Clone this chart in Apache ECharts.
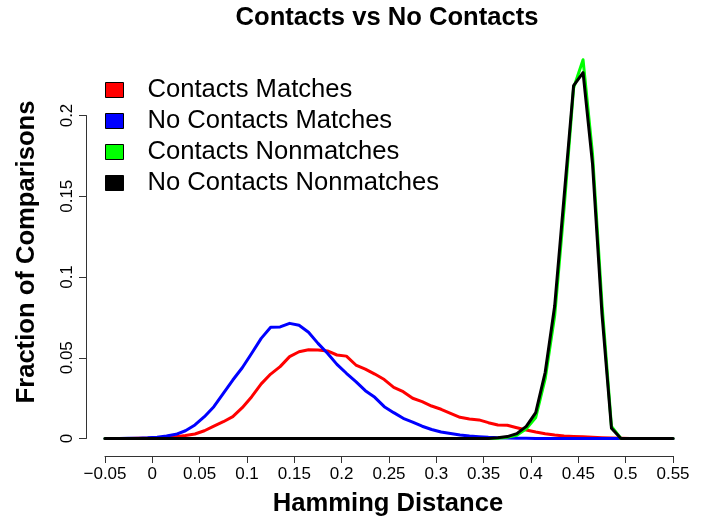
<!DOCTYPE html>
<html>
<head>
<meta charset="utf-8">
<script src="https://cdn.jsdelivr.net/npm/echarts@6/dist/echarts.min.js"></script>
<style>
  html, body { margin: 0; padding: 0; background: #fff; }
  #chart { width: 710px; height: 519px; }
</style>
</head>
<body>
<div id="chart"></div>
<script>
// Hamming distance bin centres (0.01 wide), with the two range ends at -0.05 and 0.55
const distance = [
  -0.05, -0.045, -0.035, -0.025, -0.015, -0.005,
  0.005, 0.015, 0.025, 0.035, 0.045, 0.055, 0.065, 0.075, 0.085, 0.095,
  0.105, 0.115, 0.125, 0.135, 0.145, 0.155, 0.165, 0.175, 0.185, 0.195,
  0.205, 0.215, 0.225, 0.235, 0.245, 0.255, 0.265, 0.275, 0.285, 0.295,
  0.305, 0.315, 0.325, 0.335, 0.345, 0.355, 0.365, 0.375, 0.385, 0.395,
  0.405, 0.415, 0.425, 0.435, 0.445, 0.455, 0.465, 0.475, 0.485, 0.495,
  0.505, 0.515, 0.525, 0.535, 0.545, 0.55
];

const contactsMatches = [
  0, 0, 0, 0, 0.0001, 0.0002,
  0.0004, 0.0007, 0.0011, 0.0018, 0.0028, 0.0048, 0.0077, 0.0104, 0.0135, 0.0191,
  0.0259, 0.0338, 0.0399, 0.0445, 0.0507, 0.0537, 0.0550, 0.0548, 0.0542, 0.0517,
  0.0510, 0.0455, 0.0430, 0.0399, 0.0365, 0.0317, 0.0290, 0.0249, 0.0228, 0.0201,
  0.0181, 0.0156, 0.0131, 0.0121, 0.0115, 0.0098, 0.0084, 0.0082, 0.0067, 0.0053,
  0.0040, 0.0030, 0.0022, 0.0016, 0.0013, 0.0011, 0.0008, 0.0005, 0.0003, 0.0001,
  0, 0, 0, 0, 0, 0
];

const noContactsMatches = [
  0, 0, 0, 0.0001, 0.0002, 0.0004,
  0.0008, 0.0015, 0.0026, 0.0048, 0.0084, 0.0135, 0.0197, 0.0280, 0.0362, 0.0438,
  0.0528, 0.0620, 0.0689, 0.0691, 0.0713, 0.0701, 0.0658, 0.0589, 0.0528, 0.0459,
  0.0404, 0.0352, 0.0296, 0.0255, 0.0197, 0.0160, 0.0125, 0.0102, 0.0076, 0.0056,
  0.0040, 0.0031, 0.0022, 0.0015, 0.0011, 0.0007, 0.0005, 0.0003, 0.0002, 0.0001,
  0, 0, 0, 0, 0, 0, 0, 0, 0, 0,
  0, 0, 0, 0, 0, 0
];

const contactsNonmatches = [
  0, 0, 0, 0, 0, 0,
  0, 0, 0, 0, 0, 0, 0, 0, 0, 0,
  0, 0, 0, 0, 0, 0, 0, 0, 0, 0,
  0, 0, 0, 0, 0, 0, 0, 0, 0, 0,
  0, 0, 0, 0, 0, 0, 0.0002, 0.0008, 0.0020, 0.0060,
  0.0130, 0.0370, 0.0760, 0.1430, 0.2170, 0.2345, 0.1760, 0.0830, 0.0075, 0,
  0, 0, 0, 0, 0, 0
];

const noContactsNonmatches = [
  0, 0, 0, 0, 0, 0,
  0, 0, 0, 0, 0, 0, 0, 0, 0, 0,
  0, 0, 0, 0, 0, 0, 0, 0, 0, 0,
  0, 0, 0, 0, 0, 0, 0, 0, 0, 0,
  0, 0, 0, 0, 0, 0, 0.0004, 0.0012, 0.0030, 0.0075,
  0.0160, 0.0410, 0.0820, 0.1500, 0.2185, 0.2265, 0.1700, 0.0770, 0.0063, 0,
  0, 0, 0, 0, 0, 0
];

const seriesNames = ['Contacts Matches', 'No Contacts Matches', 'Contacts Nonmatches', 'No Contacts Nonmatches'];
const seriesValues = [contactsMatches, noContactsMatches, contactsNonmatches, noContactsNonmatches];
const seriesColors = ['#ff0000', '#0000ff', '#00ff00', '#000000'];

const FONT = 'Liberation Sans, Arial, Helvetica, sans-serif';
const BIG = 25.6;

function tickText(v) {
  const r = Math.round(v * 1000) / 1000;
  if (r === 0) return '0';
  const s = String(Math.abs(r));
  return r < 0 ? '\u2212' + s : s;
}

const chart = echarts.init(document.getElementById('chart'), null, { renderer: 'canvas' });

chart.setOption({
  animation: false,
  backgroundColor: '#ffffff',
  grid: { left: 105, right: 37, top: 115.5, bottom: 80.5, containLabel: false },
  xAxis: {
    type: 'value',
    min: -0.05,
    max: 0.55,
    interval: 0.05,
    offset: 17.5,
    splitLine: { show: false },
    axisLine: { show: true, onZero: false, lineStyle: { color: '#333', width: 1 } },
    axisTick: { show: true, length: 7, lineStyle: { color: '#333', width: 1 } },
    axisLabel: { color: '#000', fontSize: 17, fontFamily: FONT, margin: 10, formatter: tickText, showMinLabel: true, showMaxLabel: true }
  },
  yAxis: {
    type: 'value',
    min: 0,
    max: 0.2,
    interval: 0.05,
    offset: 19,
    splitLine: { show: false },
    axisLine: { show: true, onZero: false, lineStyle: { color: '#333', width: 1 } },
    axisTick: { show: true, length: 7, lineStyle: { color: '#333', width: 1 } },
    axisLabel: { color: '#000', fontSize: 17, fontFamily: FONT, margin: 10, rotate: 90, formatter: tickText }
  },
  legend: {
    orient: 'vertical',
    left: 100,
    top: 72,
    icon: 'rect',
    itemWidth: 18,
    itemHeight: 15,
    itemGap: 5,
    itemStyle: { borderColor: '#000', borderWidth: 1 },
    textStyle: { color: '#000', fontSize: BIG, lineHeight: 25, fontFamily: FONT, padding: [0, 0, 0, 19] },
    data: seriesNames
  },
  graphic: [
    {
      type: 'text', x: 387, y: 18,
      style: { text: 'Contacts vs No Contacts', font: 'bold ' + BIG + 'px ' + FONT, fill: '#000', align: 'center', verticalAlign: 'middle' }
    },
    {
      type: 'text', x: 388, y: 504,
      style: { text: 'Hamming Distance', font: 'bold ' + BIG + 'px ' + FONT, fill: '#000', align: 'center', verticalAlign: 'middle' }
    },
    {
      type: 'text', x: 27, y: 252, rotation: Math.PI / 2,
      style: { text: 'Fraction of Comparisons', font: 'bold ' + BIG + 'px ' + FONT, fill: '#000', align: 'center', verticalAlign: 'middle' }
    }
  ],
  series: seriesNames.map((name, i) => ({
    name: name,
    type: 'line',
    data: distance.map((x, j) => [x, seriesValues[i][j]]),
    showSymbol: false,
    symbol: 'none',
    clip: false,
    color: seriesColors[i],
    lineStyle: { color: seriesColors[i], width: 3, cap: 'round', join: 'round' },
    z: 2 + i
  }))
});
</script>
</body>
</html>
